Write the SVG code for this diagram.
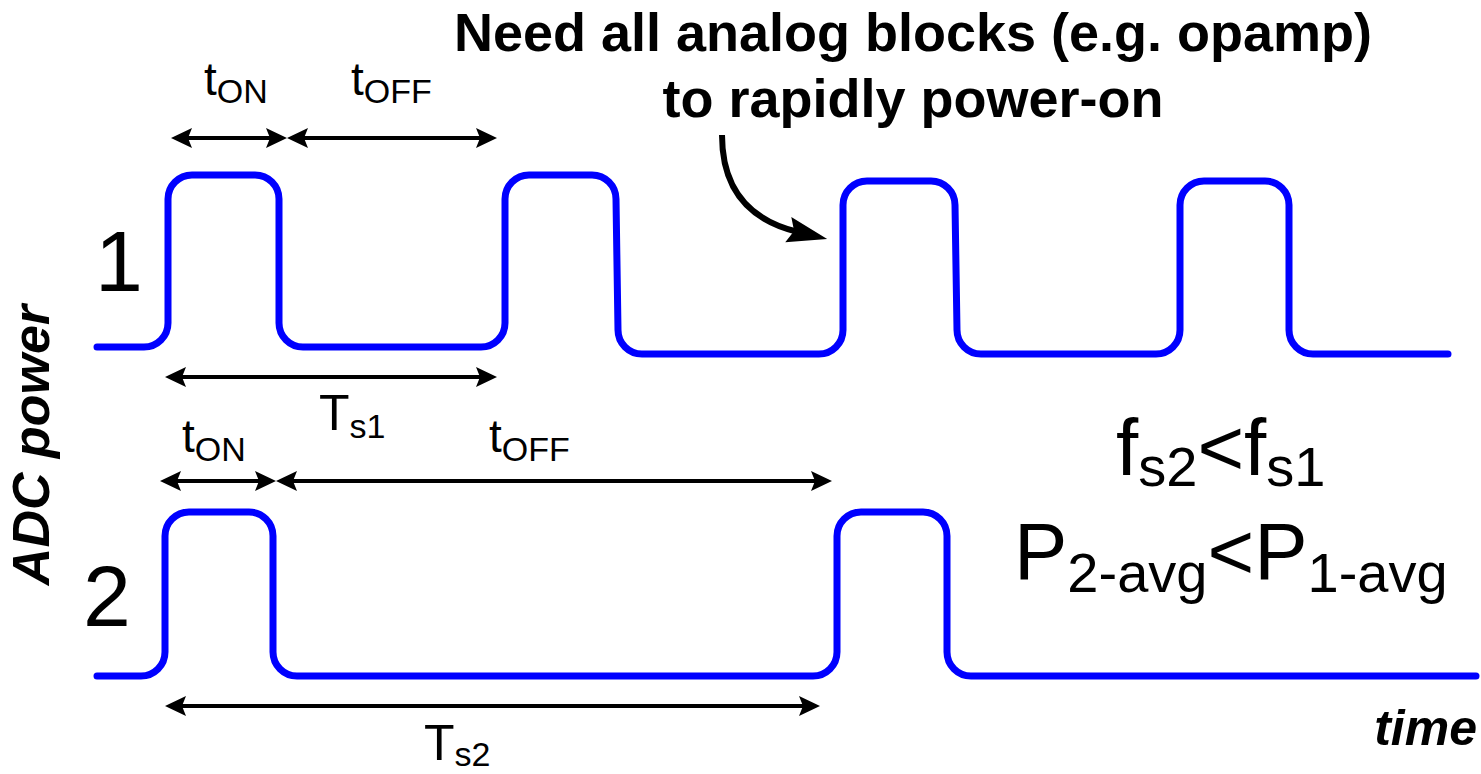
<svg xmlns="http://www.w3.org/2000/svg" width="1481" height="774" viewBox="0 0 1481 774">
<style>
.wave{fill:none;stroke:#0000FF;stroke-width:7;stroke-linecap:round;stroke-linejoin:round}
.dim{fill:none;stroke:#000;stroke-width:4;marker-start:url(#ah);marker-end:url(#ah)}
.txt{font-family:"Liberation Sans",Arial,sans-serif;fill:#000}
.bold{font-family:"Liberation Sans",Arial,sans-serif;font-weight:bold;fill:#000}
.bi{font-family:"Liberation Sans",Arial,sans-serif;font-weight:bold;font-style:italic;fill:#000}
</style>
<defs>
<marker id="ah" markerUnits="userSpaceOnUse" viewBox="0 -11 22 22" markerWidth="22" markerHeight="22" refX="5" refY="0" orient="auto-start-reverse">
<path d="M0,-10 L21,0 L0,10 L4,0 Z" fill="#000"/>
</marker>
<marker id="big" markerUnits="userSpaceOnUse" viewBox="0 -14 42 28" markerWidth="42" markerHeight="28" refX="10" refY="0" orient="auto">
<path d="M0,-13 L40,0 L0,13 L6,0 Z" fill="#000"/>
</marker>
</defs>
<rect width="1481" height="774" fill="#fff"/>
<g id="wave1">
<path class="wave" d="M97 347 H144 A24 24 0 0 0 168 323 V199 A24 24 0 0 1 192 175 H255 A24 24 0 0 1 279 199 V323 A24 24 0 0 0 303 347 H481 A24 24 0 0 0 505 323 V199 A24 24 0 0 1 529 175 H592 A24 24 0 0 1 616 199 L618 330 A24 24 0 0 0 642 354 H819 A24 24 0 0 0 843 330 V205 A24 24 0 0 1 867 181 H931 A24 24 0 0 1 955 205 L957 330 A24 24 0 0 0 981 354 H1156 A24 24 0 0 0 1180 330 V205 A24 24 0 0 1 1204 181 H1265 A24 24 0 0 1 1289 205 V330 A24 24 0 0 0 1313 354 H1448"/>
</g>
<g id="wave2">
<path class="wave" d="M97 676 H141 A24 24 0 0 0 165 652 V536 A24 24 0 0 1 189 512 H249 A24 24 0 0 1 273 536 V652 A24 24 0 0 0 297 676 H813 A24 24 0 0 0 837 652 V536 A24 24 0 0 1 861 512 H923 A24 24 0 0 1 947 536 V652 A24 24 0 0 0 971 676 H1476"/>
</g>
<g id="connectors">
<line class="dim" x1="187" y1="138" x2="271" y2="138"/>
<line class="dim" x1="303" y1="138" x2="481" y2="138"/>
<line class="dim" x1="181" y1="377" x2="481" y2="377"/>
<line class="dim" x1="176" y1="481" x2="260" y2="481"/>
<line class="dim" x1="292" y1="481" x2="816" y2="481"/>
<line class="dim" x1="181" y1="706" x2="804" y2="706"/>
<path d="M722 135 C722 188 748 220 798 232" fill="none" stroke="#000" stroke-width="6" marker-end="url(#big)"/>
</g>
<g id="title">
<text class="bold" x="913" y="51" font-size="54" text-anchor="middle">Need all analog blocks (e.g. opamp)</text>
<text class="bold" x="913" y="117" font-size="54" text-anchor="middle">to rapidly power-on</text>
</g>
<g id="axis-labels">
<text class="bi" font-size="52" text-anchor="middle" transform="translate(49,445) rotate(-90)">ADC power</text>
<text class="bi" x="1477" y="745" font-size="50" text-anchor="end">time</text>
<text class="txt" x="95" y="291" font-size="86">1</text>
<text class="txt" x="83" y="626" font-size="86">2</text>
</g>
<g id="timing-labels">
<text class="txt" x="204" y="95" font-size="46">t<tspan font-size="34" dy="8">ON</tspan></text>
<text class="txt" x="351" y="95" font-size="46">t<tspan font-size="34" dy="8">OFF</tspan></text>
<text class="txt" x="319" y="430" font-size="50">T<tspan font-size="34" dy="8">s1</tspan></text>
<text class="txt" x="182" y="452" font-size="46">t<tspan font-size="34" dy="9">ON</tspan></text>
<text class="txt" x="489" y="452" font-size="46">t<tspan font-size="34" dy="9">OFF</tspan></text>
<text class="txt" x="424" y="760" font-size="50">T<tspan font-size="34" dy="6">s2</tspan></text>
</g>
<g id="relations">
<text class="txt" x="1116" y="475" font-size="80">f<tspan font-size="56" dy="11">s2</tspan><tspan dy="-11">&lt;f</tspan><tspan font-size="56" dy="11">s1</tspan></text>
<text class="txt" x="1014" y="579" font-size="80">P<tspan font-size="56" dy="13">2-avg</tspan><tspan dy="-13">&lt;P</tspan><tspan font-size="56" dy="13">1-avg</tspan></text>
</g>
</svg>
